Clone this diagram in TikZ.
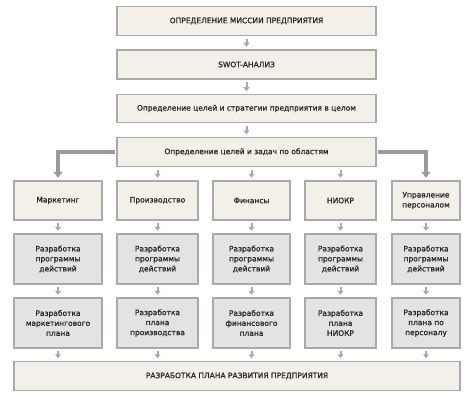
\documentclass[tikz,border=0pt]{standalone}
\usepackage{fontspec}
\setmainfont{DejaVu Sans}
\newfontfamily\shriftblok{DejaVu Sans}[FakeBold=1.3]
\usetikzlibrary{arrows.meta}

\definecolor{beige}{HTML}{F2F0E8}
\definecolor{seryj}{HTML}{E1E4E1}
\definecolor{rama}{HTML}{A9A9A9}
\definecolor{strelka}{HTML}{9A9A9A}
\definecolor{tekst}{HTML}{2A2A2A}

\tikzset{
    blok/.style={draw=rama, line width=1.5pt, fill=beige, text=tekst, align=center,
        inner sep=1pt, font=\shriftblok\fontsize{7.5}{10}\selectfont},
    razrab/.style={blok, fill=seryj},
    malstr/.style={-{Triangle[width=6pt,length=4pt]}, line width=2pt, draw=strelka!85,
        shorten <=2.5pt, shorten >=2.5pt},
    tolstr/.style={-{Triangle[width=9pt,length=6pt]}, line width=4pt, draw=strelka,
        shorten <=1pt, shorten >=2.5pt},
}

\begin{document}
\begin{tikzpicture}[x=1pt, y=-1pt]
        \useasboundingbox (0,0) rectangle (474,404);

        % Верхние блоки
        \node[blok, minimum width=259, minimum height=29] (missiya) at (246.5, 21) {ОПРЕДЕЛЕНИЕ МИССИИ ПРЕДПРИЯТИЯ};
        \node[blok, minimum width=259, minimum height=29] (swot) at (246.5, 64.5) {SWOT-АНАЛИЗ};
        \node[blok, minimum width=259, minimum height=28] (celi) at (246.5, 108.5) {Определение целей и стратегии предприятия в целом};
        \node[blok, minimum width=259, minimum height=29] (oblasti) at (246.5, 152) {Определение целей и задач по областям};

        % Области
        \node[blok, minimum width=88, minimum height=39] (mark) at (58, 200.5) {Маркетинг};
        \node[blok, minimum width=81, minimum height=39] (proizv) at (157.5, 200.5) {Производство};
        \node[blok, minimum width=77, minimum height=39] (fin) at (251.5, 200.5) {Финансы};
        \node[blok, minimum width=71, minimum height=39] (niokr) at (340.5, 200.5) {НИОКР};
        \node[blok, minimum width=68, minimum height=39] (pers) at (426, 200.5) {Управление\\персоналом};

        % Программы действий
        \node[razrab, minimum width=88, minimum height=50] (progmark) at (58, 259) {Разработка\\программы\\действий};
        \node[razrab, minimum width=81, minimum height=50] (progproizv) at (157.5, 259) {Разработка\\программы\\действий};
        \node[razrab, minimum width=77, minimum height=50] (progfin) at (251.5, 259) {Разработка\\программы\\действий};
        \node[razrab, minimum width=71, minimum height=50] (progniokr) at (340.5, 259) {Разработка\\программы\\действий};
        \node[razrab, minimum width=68, minimum height=50] (progpers) at (426, 259) {Разработка\\программы\\действий};

        % Планы по областям
        \node[razrab, minimum width=88, minimum height=50] (planmark) at (58, 323) {Разработка\\маркетингового\\плана};
        \node[razrab, minimum width=81, minimum height=50] (planproizv) at (157.5, 323) {Разработка\\плана\\производства};
        \node[razrab, minimum width=77, minimum height=50] (planfin) at (251.5, 323) {Разработка\\финансового\\плана};
        \node[razrab, minimum width=71, minimum height=50] (planniokr) at (340.5, 323) {Разработка\\плана\\НИОКР};
        \node[razrab, minimum width=68, minimum height=50] (planpers) at (426, 323) {Разработка\\плана по\\персоналу};

        % Итоговый блок
        \node[blok, minimum width=446, minimum height=29] (razvitie) at (237, 376) {РАЗРАБОТКА ПЛАНА РАЗВИТИЯ ПРЕДПРИЯТИЯ};

        % Стрелки между верхними блоками
        \draw[malstr] (missiya) -- (swot);
        \draw[malstr] (swot) -- (celi);
        \draw[malstr] (celi) -- (oblasti);

        % Толстые стрелки к крайним областям
        \draw[tolstr] (oblasti.west) -| (mark.north);
        \draw[tolstr] (oblasti.east) -| (pers.north);

        % Стрелки к средним областям
        \draw[malstr] (oblasti.south -| proizv) -- (proizv.north);
        \draw[malstr] (oblasti.south -| fin) -- (fin.north);
        \draw[malstr] (oblasti.south -| niokr) -- (niokr.north);

        % Стрелки внутри столбцов
        \draw[malstr] (mark) -- (progmark);
        \draw[malstr] (proizv) -- (progproizv);
        \draw[malstr] (fin) -- (progfin);
        \draw[malstr] (niokr) -- (progniokr);
        \draw[malstr] (pers) -- (progpers);

        \draw[malstr] (progmark) -- (planmark);
        \draw[malstr] (progproizv) -- (planproizv);
        \draw[malstr] (progfin) -- (planfin);
        \draw[malstr] (progniokr) -- (planniokr);
        \draw[malstr] (progpers) -- (planpers);

        % Стрелки к итоговому блоку
        \draw[malstr] (planmark) -- (planmark |- razvitie.north);
        \draw[malstr] (planproizv) -- (planproizv |- razvitie.north);
        \draw[malstr] (planfin) -- (planfin |- razvitie.north);
        \draw[malstr] (planniokr) -- (planniokr |- razvitie.north);
        \draw[malstr] (planpers) -- (planpers |- razvitie.north);
    \end{tikzpicture}
\end{document}
